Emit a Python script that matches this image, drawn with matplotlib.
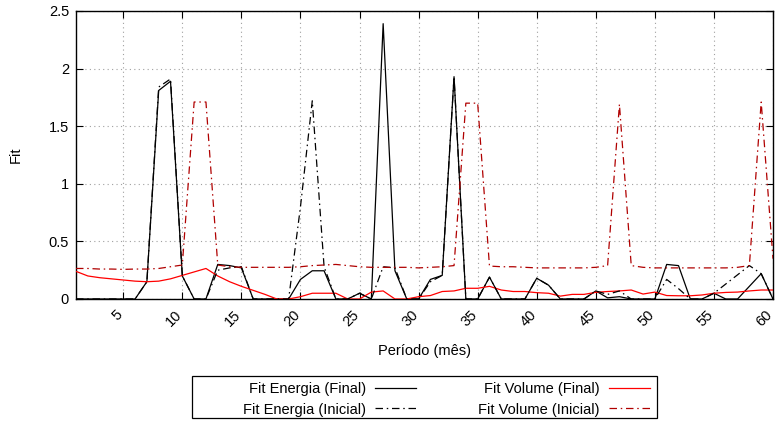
import matplotlib
matplotlib.use("Agg")
import matplotlib.pyplot as plt
import matplotlib.transforms as mtransforms
from matplotlib.patches import Rectangle
import numpy as np

plt.rcParams['font.family'] = ['Liberation Sans', 'DejaVu Sans']

periodo = list(range(1, 61))

energia_final = [0, 0, 0, 0, 0, 0, 0.15, 1.81, 1.89, 0.2,
                 0, 0, 0.3, 0.29, 0.27, 0, 0, 0, 0, 0.17,
                 0.245, 0.245, 0, 0, 0.05, 0, 2.39, 0.245, 0, 0,
                 0.17, 0.205, 1.93, 0, 0, 0.19, 0, 0, 0, 0.18,
                 0.12, 0, 0, 0, 0.07, 0.01, 0.02, 0, 0, 0,
                 0.3, 0.29, 0, 0, 0.05, 0, 0, 0.11, 0.22, 0]

energia_inicial = [0, 0, 0, 0, 0, 0, 0.15, 1.84, 1.91, 0.2,
                   0, 0, 0.25, 0.27, 0.28, 0, 0, 0, 0, 0.8,
                   1.72, 0.28, 0, 0, 0.05, 0, 0.28, 0.27, 0, 0,
                   0.15, 0.205, 1.93, 0, 0, 0.19, 0, 0, 0, 0.18,
                   0.12, 0, 0, 0, 0.07, 0.04, 0.07, 0, 0, 0,
                   0.17, 0.09, 0, 0, 0.05, 0.13, 0.21, 0.29, 0.22, 0]

volume_final = [0.24, 0.2, 0.185, 0.175, 0.165, 0.155, 0.15, 0.155, 0.175, 0.205,
                0.235, 0.265, 0.2, 0.15, 0.11, 0.075, 0.04, 0, 0, 0.02,
                0.05, 0.05, 0.05, 0, 0, 0.06, 0.07, 0, 0, 0.02,
                0.03, 0.065, 0.07, 0.093, 0.093, 0.11, 0.078, 0.065, 0.065, 0.055,
                0.05, 0.025, 0.04, 0.04, 0.058, 0.065, 0.07, 0.078, 0.043, 0.06,
                0.03, 0.028, 0.028, 0.035, 0.05, 0.057, 0.06, 0.07, 0.078, 0.078]

volume_inicial = [0.265, 0.265, 0.26, 0.26, 0.257, 0.26, 0.26, 0.265, 0.28, 0.295,
                  1.71, 1.71, 0.295, 0.28, 0.275, 0.275, 0.275, 0.275, 0.275, 0.28,
                  0.29, 0.295, 0.3, 0.29, 0.28, 0.275, 0.275, 0.275, 0.275, 0.27,
                  0.275, 0.28, 0.29, 1.70, 1.70, 0.286, 0.28, 0.28, 0.275, 0.27,
                  0.27, 0.27, 0.27, 0.27, 0.275, 0.29, 1.69, 0.29, 0.275, 0.27,
                  0.27, 0.27, 0.27, 0.27, 0.27, 0.27, 0.275, 0.29, 1.71, 0.35]

xticks = [5, 10, 15, 20, 25, 30, 35, 40, 45, 50, 55, 60]
yticks = [0, 0.5, 1, 1.5, 2, 2.5]
ytick_labels = ["0", "0.5", "1", "1.5", "2", "2.5"]

FS = 10.5
W, H = 775, 424
fig = plt.figure(figsize=(W / 100, H / 100), dpi=100)
ax = fig.add_axes([76 / W, 1 - 299 / H, (773 - 76) / W, (299 - 11) / H])

dd = (0, (6, 3, 1.2, 3))
l1, = ax.plot(periodo, energia_final, color='black', lw=0.9, label='Fit Energia (Final)', zorder=3)
l2, = ax.plot(periodo, volume_final, color='#ff0000', lw=0.9, label='Fit Volume (Final)', zorder=3)
l3, = ax.plot(periodo, energia_inicial, color='black', lw=0.9, linestyle=dd, label='Fit Energia (Inicial)', zorder=3)
l4, = ax.plot(periodo, volume_inicial, color='#b00000', lw=0.9, linestyle=dd, label='Fit Volume (Inicial)', zorder=3)

ax.set_xlim(1, 60)
ax.set_ylim(0, 2.5)
ax.set_xticks(xticks)
ax.set_xticklabels([str(t) for t in xticks], rotation=45, ha='right', va='center',
                   rotation_mode='anchor')
ax.set_yticks(yticks)
ax.set_yticklabels(ytick_labels)
ax.tick_params(direction='in', length=5, width=0.8, top=True, right=True, labelsize=FS, pad=5)
ax.tick_params(axis='x', pad=10)
ax.grid(True, color='#a0a0a0', linestyle=(0, (1, 3)), lw=0.8)
for s in ax.spines.values():
    s.set_linewidth(1.0)
shift = mtransforms.ScaledTranslation(-2.5 / 100, 0, fig.dpi_scale_trans)
for lab in ax.get_xticklabels():
    lab.set_transform(lab.get_transform() + shift)

fig.text(424 / W, 1 - 351 / H, 'Período (mês)', ha='center', va='center', fontsize=FS)
fig.text(16 / W, 1 - 155 / H, 'Fit', ha='center', va='center', rotation=90, fontsize=FS)

fig.patches.append(Rectangle((192 / W, 1 - 418 / H), (657 - 192) / W, (418 - 376) / H,
                             transform=fig.transFigure, fill=False, edgecolor='black', lw=0.9))
leg = fig.legend(handles=[l1, l3, l2, l4], ncol=2, markerfirst=False, frameon=False,
                 loc='upper left', bbox_to_anchor=(236 / W, 1 - 375 / H), borderpad=0,
                 fontsize=FS, handlelength=2.8, handletextpad=0.62, columnspacing=4.25,
                 labelspacing=0.43)

fig.savefig('out.png', dpi=100)
